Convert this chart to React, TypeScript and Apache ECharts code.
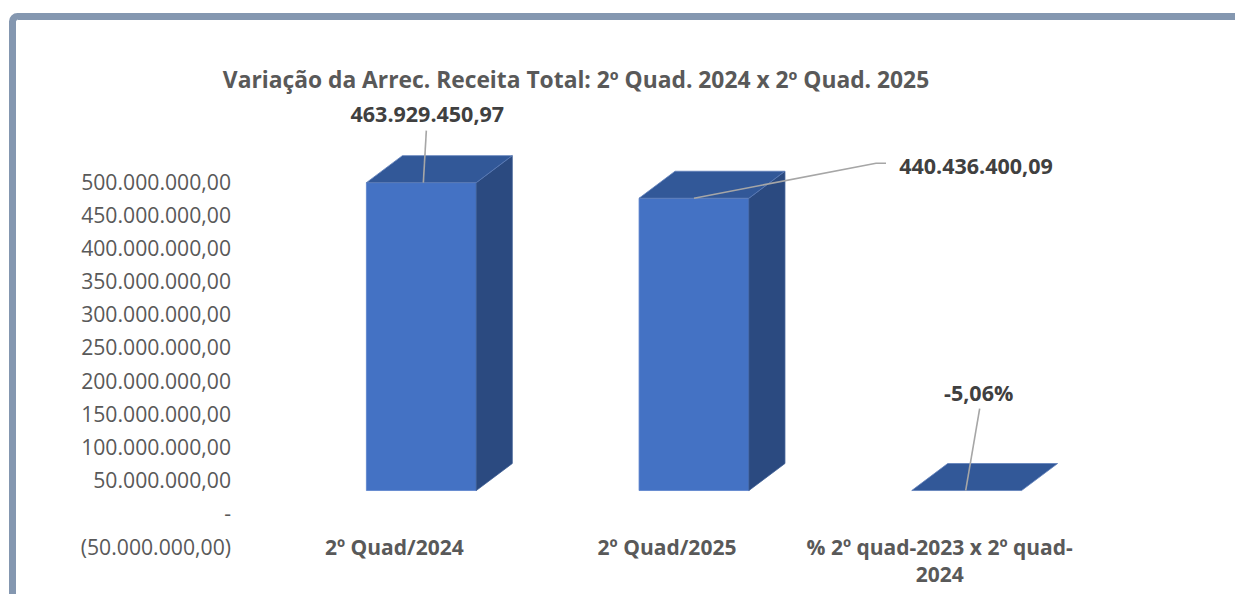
import React, { useEffect, useRef } from "react";
import * as echarts from "echarts";

const TITLE = "Variação da Arrec. Receita Total: 2º Quad. 2024 x 2º Quad. 2025";
const categories = ["2º Quad/2024", "2º Quad/2025", "% 2º quad-2023 x 2º quad-\n2024"];
const values = [463929450.97, 440436400.09, -0.0506];
const isPercent = [false, false, true];
const yMin = -50000000;
const yMax = 500000000;
const yStep = 50000000;

const FONT = "'Open Sans', 'Noto Sans', sans-serif";

function fmt(n: number): string {
  const [ip, dp] = Math.abs(n).toFixed(2).split(".");
  const withDots = ip.replace(/\B(?=(\d{3})+(?!\d))/g, ".");
  return (n < 0 ? "-" : "") + withDots + "," + dp;
}
function fmtAxis(v: number): string {
  if (v === 0) return "-";
  if (v < 0) return "(" + fmt(-v) + ")";
  return fmt(v);
}
function fmtLabel(v: number, pct: boolean): string {
  if (pct) return (v * 100).toFixed(2).replace(".", ",") + "%";
  return fmt(v);
}

// label placement (pixel offsets from the front-top centre of each bar)
const LABEL_LAYOUT = [
  { tx: 6, ty: -69, line: [[2, 0], [5, -52]] },
  { tx: 282, ty: -33, line: [[0, 0], [182, -35], [192, -35]] },
  { tx: 12, ty: -98, line: [[-1, 0], [13, -82]] },
];

export default function App() {
  const ref = useRef<HTMLDivElement>(null);
  useEffect(() => {
    if (!ref.current) return;
    const chart = echarts.init(ref.current, undefined, { renderer: "svg" });
    const SHIFT_X = 27;
    const DX = 36;
    const DY = -27;
    chart.setOption({
      animation: false,
      backgroundColor: "#ffffff",
      title: {
        text: TITLE,
        left: 571,
        top: 63,
        textAlign: "center",
        textStyle: { fontFamily: FONT, fontWeight: "bold", fontSize: 22.8, color: "#595959" },
      },
      graphic: [
        {
          type: "rect",
          shape: { x: 12.5, y: 16.5, width: 1500, height: 900, r: 5 },
          style: { fill: "none", stroke: "#8497b0", lineWidth: 7 },
          silent: true,
        },
      ],
      grid: { left: 258, right: 159, top: 181, bottom: 48, containLabel: false },
      xAxis: {
        type: "category",
        data: categories,
        axisLine: { show: false },
        axisTick: { show: false },
        splitLine: { show: false },
        axisLabel: {
          margin: -13,
          interval: 0,
          fontFamily: FONT,
          fontWeight: "bold",
          fontSize: 21,
          lineHeight: 27,
          color: "#595959",
        },
      },
      yAxis: [
        {
          type: "value",
          min: yMin,
          max: yMax,
          interval: yStep,
          axisLine: { show: false },
          axisTick: { show: false },
          splitLine: { show: false },
          axisLabel: {
            margin: 27,
            fontFamily: FONT,
            fontSize: 21.2,
            color: "#595959",
            formatter: (v: number) => fmtAxis(v),
          },
        },
        {
          type: "value",
          show: false,
          min: -83600000,
          max: 466400000,
          splitLine: { show: false },
        },
      ],
      series: [
        {
          type: "custom",
          xAxisIndex: 0,
          yAxisIndex: 1,
          clip: false,
          data: values.map((v, i) => [i, v]),
          renderItem: (params: any, api: any) => {
            const i = api.value(0);
            const v = api.value(1);
            const top = api.coord([i, v]);
            const base = api.coord([i, 0]);
            const bw = api.size([1, 0])[0] * 0.403;
            const cx = top[0] + SHIFT_X;
            const x0 = cx - bw / 2;
            const x1 = cx + bw / 2;
            const yt = Math.min(top[1], base[1]);
            const yb = base[1];
            const lay = LABEL_LAYOUT[i];
            const children: any[] = [];
            if (yb - yt > 0.5) {
              children.push({
                type: "polygon",
                shape: { points: [[x0, yt], [x1, yt], [x1, yb], [x0, yb]] },
                style: { fill: "#4472c4", stroke: "#5b82cc", lineWidth: 0.8 },
              });
              children.push({
                type: "polygon",
                shape: { points: [[x1, yt], [x1 + DX, yt + DY], [x1 + DX, yb + DY], [x1, yb]] },
                style: { fill: "#2b4a80", stroke: "#3a5a92", lineWidth: 0.8 },
              });
            }
            children.push({
              type: "polygon",
              shape: { points: [[x0, yt], [x1, yt], [x1 + DX, yt + DY], [x0 + DX, yt + DY]] },
              style: { fill: "#325898", stroke: "#5f7fba", lineWidth: 0.8 },
            });
            children.push({
              type: "polyline",
              shape: { points: lay.line.map((p) => [cx + p[0], yt + p[1]]) },
              style: { stroke: "#a6a6a6", lineWidth: 1.6, fill: "none" },
            });
            children.push({
              type: "text",
              style: {
                x: cx + lay.tx,
                y: yt + lay.ty,
                text: fmtLabel(v, isPercent[i]),
                align: "center",
                verticalAlign: "middle",
                fontFamily: FONT,
                fontWeight: "bold",
                fontSize: 21.5,
                fill: "#404040",
              },
            });
            return { type: "group", children };
          },
        },
      ],
    });
    return () => chart.dispose();
  }, []);
  return (
    <div
      ref={ref}
      style={{ position: "absolute", left: 0, top: 0, width: 1235, height: 594 }}
    />
  );
}
